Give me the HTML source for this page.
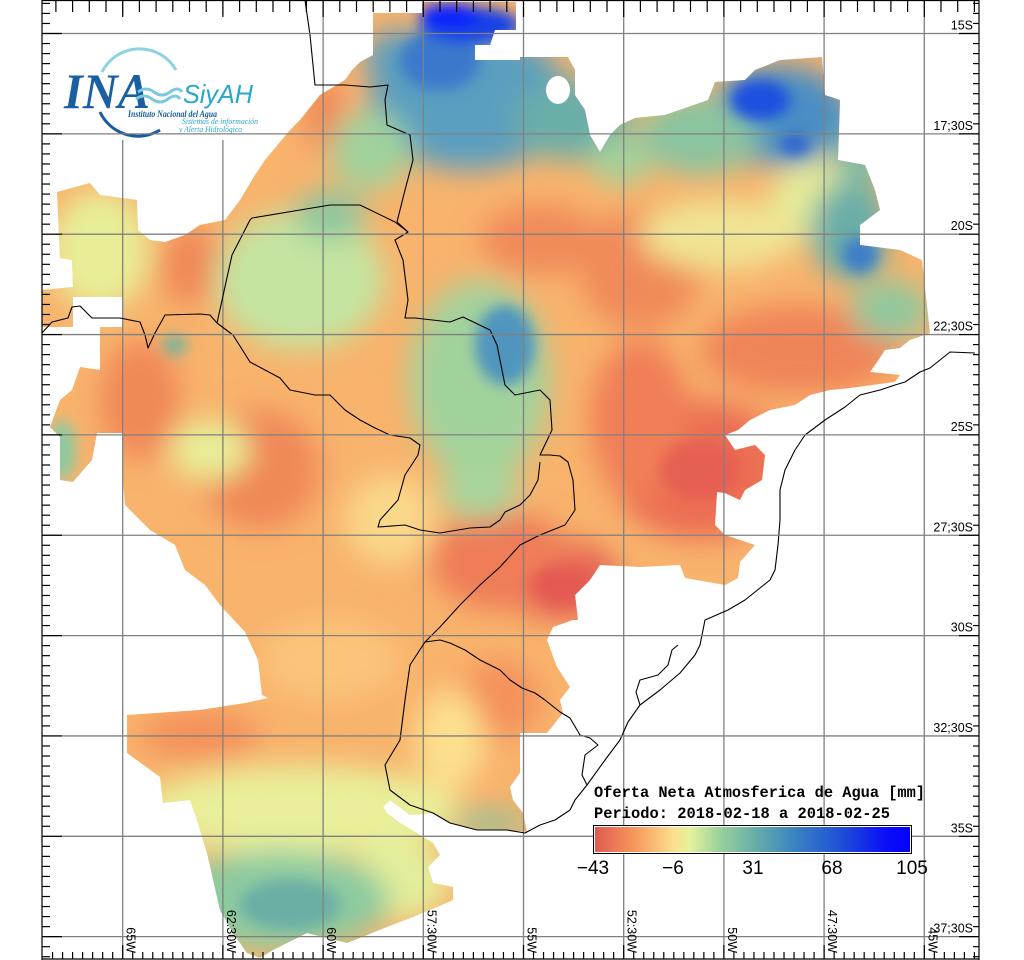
<!DOCTYPE html>
<html><head><meta charset="utf-8"><style>
html,body{margin:0;padding:0;background:#fff;}
svg{display:block;}
.lab{font-family:"Liberation Sans",sans-serif;font-size:12.5px;fill:#000;}
.mono{font-family:"Liberation Mono",monospace;font-size:15.4px;fill:#000;font-weight:bold;}
</style></head><body>
<svg id="s" width="1024" height="960" viewBox="0 0 1024 960" xmlns="http://www.w3.org/2000/svg">
<defs>
<clipPath id="reg"><polygon points="300,120 320,95 345,80 352,70 360,62 373,55 373,13 422,13 422,2 516,2 516,30 495,30 490,45 475,45 475,60 520,60 520,57 568,57 575,70 575,95 585,110 590,135 600,152 610,135 620,125 635,118 665,115 708,100 715,82 745,80 755,70 780,60 822,57 825,95 840,100 838,160 865,165 875,190 880,210 860,225 860,245 900,250 922,260 930,333 910,340 900,348 885,350 875,365 870,372 900,375 895,382 850,388 830,390 810,395 795,405 770,410 750,420 738,430 725,435 735,450 755,445 765,455 762,480 745,490 740,500 725,493 717,492 715,525 725,535 755,545 740,562 738,578 725,585 685,578 680,565 640,567 600,565 590,580 575,595 578,620 573,620 553,627 547,640 557,667 570,687 560,700 563,713 547,733 520,733 520,773 510,787 513,800 523,813 527,832 507,830 477,830 450,823 433,813 410,815 390,800 383,807 387,813 400,823 420,835 433,843 440,855 428,867 433,883 453,887 453,900 437,907 413,917 387,927 347,943 307,933 273,950 260,958 247,953 233,933 220,910 207,853 197,820 190,800 163,803 160,777 127,753 127,715 200,710 245,703 268,698 262,695 258,660 245,632 220,605 205,585 185,570 175,545 150,530 125,505 123,480 123,433 97,433 92,460 73,482 60,480 60,437 50,427 60,400 72,390 80,367 100,370 100,327 123,327 123,297 73,297 73,327 42,327 42,290 73,287 72,260 60,258 57,192 90,183 100,195 137,200 138,230 150,240 165,242 185,235 200,225 225,220 240,200 255,175 265,160 290,130"/></clipPath>
<filter id="bl" x="-20%" y="-20%" width="140%" height="140%"><feGaussianBlur stdDeviation="14"/></filter>
<filter id="bl2" x="-20%" y="-20%" width="140%" height="140%"><feGaussianBlur stdDeviation="7"/></filter>
<linearGradient id="cb" x1="0" x2="1" y1="0" y2="0">
<stop offset="0" stop-color="#e05a50"/><stop offset="0.13" stop-color="#f79a5c"/><stop offset="0.25" stop-color="#fbe08e"/><stop offset="0.3" stop-color="#e4f29c"/><stop offset="0.4" stop-color="#98d09c"/><stop offset="0.5" stop-color="#6bb0a6"/><stop offset="0.63" stop-color="#3a85c0"/><stop offset="0.78" stop-color="#1f4fd6"/><stop offset="0.92" stop-color="#0a10f8"/><stop offset="1" stop-color="#0000ff"/></linearGradient>
</defs>
<g clip-path="url(#reg)">
<rect x="0" y="0" width="1024" height="960" fill="#f8b36c"/>
<g filter="url(#bl)">
<ellipse cx="700" cy="470" rx="90" ry="70" fill="#ec6e52"/>
<ellipse cx="800" cy="350" rx="100" ry="45" fill="#f08458"/>
<ellipse cx="560" cy="580" rx="60" ry="40" fill="#e66454"/>
<ellipse cx="500" cy="560" rx="70" ry="50" fill="#ee7d58"/>
<ellipse cx="640" cy="270" rx="60" ry="60" fill="#f08a5a"/>
<ellipse cx="540" cy="240" rx="60" ry="35" fill="#f08a5a"/>
<ellipse cx="640" cy="420" rx="50" ry="80" fill="#f07e56"/>
<ellipse cx="260" cy="470" rx="60" ry="60" fill="#f08858"/>
<ellipse cx="140" cy="400" rx="40" ry="60" fill="#f08858"/>
<ellipse cx="190" cy="265" rx="30" ry="40" fill="#f08858"/>
<ellipse cx="325" cy="115" rx="20" ry="40" fill="#f08858"/>
<ellipse cx="480" cy="470" rx="30" ry="30" fill="#ee7d58"/>
<ellipse cx="500" cy="700" rx="40" ry="40" fill="#f4915c"/>
<ellipse cx="200" cy="735" rx="60" ry="25" fill="#f4915c"/>
<ellipse cx="330" cy="660" rx="70" ry="40" fill="#fbc47a"/>
<ellipse cx="720" cy="235" rx="80" ry="35" fill="#f0e494"/>
<ellipse cx="390" cy="520" rx="45" ry="45" fill="#fad88a"/>
<ellipse cx="450" cy="740" rx="35" ry="50" fill="#fce08e"/>
<ellipse cx="300" cy="810" rx="160" ry="45" fill="#e9ef9a"/>
<ellipse cx="400" cy="880" rx="50" ry="40" fill="#e4ee9a"/>
<ellipse cx="100" cy="250" rx="50" ry="60" fill="#e8ee98"/>
<ellipse cx="210" cy="450" rx="40" ry="30" fill="#e8ee98"/>
<ellipse cx="820" cy="200" rx="50" ry="40" fill="#e6ec98"/>
<ellipse cx="300" cy="280" rx="85" ry="70" fill="#c4e4a0"/>
<ellipse cx="330" cy="215" rx="35" ry="25" fill="#8ec6a0"/>
<ellipse cx="480" cy="380" rx="70" ry="100" fill="#a2d29c"/>
<ellipse cx="480" cy="490" rx="40" ry="30" fill="#a8d69c"/>
<ellipse cx="280" cy="900" rx="110" ry="50" fill="#8ccaa0"/>
<ellipse cx="490" cy="822" rx="40" ry="10" fill="#80c4a0"/>
<ellipse cx="890" cy="310" rx="40" ry="30" fill="#90c89e"/>
<ellipse cx="850" cy="230" rx="40" ry="50" fill="#6aaea8"/>
<ellipse cx="860" cy="150" rx="25" ry="40" fill="#7cbaa4"/>
<ellipse cx="470" cy="100" rx="100" ry="70" fill="#5a9ec0"/>
<ellipse cx="570" cy="120" rx="60" ry="40" fill="#6aaea8"/>
<ellipse cx="780" cy="115" rx="70" ry="50" fill="#4a8ec4"/>
<ellipse cx="700" cy="135" rx="60" ry="40" fill="#8ac4a0"/>
<ellipse cx="620" cy="160" rx="30" ry="25" fill="#a0d29c"/>
<ellipse cx="370" cy="150" rx="40" ry="40" fill="#a0d29c"/>
<ellipse cx="400" cy="60" rx="35" ry="30" fill="#5a9ec0"/>
</g>
<g filter="url(#bl2)">
<ellipse cx="505" cy="345" rx="30" ry="40" fill="#4f95be"/>
<ellipse cx="175" cy="345" rx="12" ry="10" fill="#6fb4a0"/>
<ellipse cx="62" cy="450" rx="14" ry="30" fill="#8ccaa0"/>
<ellipse cx="290" cy="905" rx="50" ry="25" fill="#6aaea4"/>
<ellipse cx="860" cy="255" rx="18" ry="18" fill="#3d7ec8"/>
<ellipse cx="440" cy="60" rx="40" ry="30" fill="#3a78cc"/>
<ellipse cx="470" cy="25" rx="50" ry="18" fill="#1540e6"/>
<ellipse cx="450" cy="15" rx="30" ry="12" fill="#0a20ff"/>
<ellipse cx="760" cy="100" rx="30" ry="20" fill="#1c50e0"/>
<ellipse cx="795" cy="145" rx="15" ry="10" fill="#2a60d0"/>
<ellipse cx="700" cy="470" rx="40" ry="30" fill="#e65e52"/>
<ellipse cx="560" cy="585" rx="30" ry="20" fill="#e45a52"/>
</g>
<ellipse cx="558" cy="90" rx="12" ry="14" fill="#fff"/>
</g>
<g id="grid" stroke="#808080" stroke-width="1.3" fill="none"></g>
<g stroke="#000" stroke-width="1.1" fill="none" stroke-linejoin="round">
<polyline points="305,0 310,35 315,85 345,85 370,87 388,85 385,100 387,125 410,135 413,160 405,190 397,222 408,232 395,240 403,260 408,300 405,318 415,318 450,322 463,317 490,330 497,345 505,385 515,395 540,390 550,400 552,430 540,455 550,455 560,456 568,462 573,480 575,510 565,525 540,535 520,545 500,567 480,585 460,605 440,627 425,642 410,665 405,700 400,740 385,765 390,790 410,805 433,813 450,823 477,830 507,830 525,833 540,825 555,820 570,810 575,800 587,785 605,760 620,740 628,722 640,705 660,690 680,673 695,655 700,645 705,620 728,610 745,600 770,580 775,570 778,545 780,520 780,490 785,470 795,450 805,435 825,420 845,407 860,395 880,390 895,385 905,382 920,372 930,368 940,360 950,352 975,353"/>
<polyline points="42,333 52,322 68,318 72,307 80,306 92,318 120,318 140,322 145,335 148,348 155,333 165,315 200,314 210,315 217,323 233,335 250,362 280,378 290,390 315,395 330,395 345,410 360,420 375,428 390,435 410,438 420,445 418,455 405,475 398,500 380,520 378,527 405,525 420,530 440,533 470,528 490,527 500,520 505,512 520,505 530,495 538,480 540,462"/>
<polyline points="217,323 232,255 250,220 252,218 330,205 360,205 395,222 408,232"/>
<polyline points="425,642 440,640 450,643 465,650 480,660 500,670 510,680 522,688 535,693 545,700 560,712 570,718 580,735 590,738 598,745 585,755 582,775 587,785"/>
<polyline points="640,705 636,692 640,680 658,675 668,665 672,650 678,645"/>
</g>
<rect x="43" y="15" width="223" height="125" fill="#fff"/>
<path d="M102,72 A42,42 0 0 1 176,70" stroke="#8fd3e3" stroke-width="3" fill="none"/>
<path d="M100,112 A42,42 0 0 0 160,130" stroke="#1a5a9e" stroke-width="3" fill="none"/>
<text x="64" y="108" font-family="Liberation Serif,serif" font-style="italic" font-weight="bold" font-size="50" fill="#1b5fa3" textLength="86" lengthAdjust="spacingAndGlyphs">INA</text>
<path d="M138,92 q8,-6 16,0 t16,0 t12,0 M136,99 q8,-6 16,0 t16,0 t12,0" stroke="#7cc8dc" stroke-width="3" fill="none"/>
<text x="183" y="103" font-family="Liberation Sans,sans-serif" font-style="italic" font-size="26" fill="#2aa6cc" textLength="70" lengthAdjust="spacingAndGlyphs">SiyAH</text>
<text x="128" y="117" font-family="Liberation Serif,serif" font-style="italic" font-weight="bold" font-size="9" fill="#1a5a9e" textLength="89" lengthAdjust="spacingAndGlyphs">Instituto Nacional del Agua</text>
<text x="182" y="124" font-family="Liberation Serif,serif" font-style="italic" font-size="8.5" fill="#2aa6cc" textLength="76" lengthAdjust="spacingAndGlyphs">Sistemas de información</text>
<text x="179" y="132" font-family="Liberation Serif,serif" font-style="italic" font-size="8.5" fill="#2aa6cc" textLength="63" lengthAdjust="spacingAndGlyphs">y Alerta Hidrológico</text>
<g id="hl" stroke="#808080" stroke-width="1.3"></g>
<g id="ticks" stroke="#000" stroke-width="1.2"></g>
<g id="labs"></g>
<text class="mono" x="594" y="797" textLength="331" lengthAdjust="spacingAndGlyphs">Oferta Neta Atmosferica de Agua [mm]</text>
<text class="mono" x="594" y="818" textLength="296" lengthAdjust="spacingAndGlyphs">Periodo: 2018-02-18 a 2018-02-25</text>
<rect x="593.5" y="825.5" width="318" height="28" fill="#fff" stroke="#000" stroke-width="1"/>
<rect x="595" y="827" width="315" height="25" fill="url(#cb)"/>
<g font-family="Liberation Sans,sans-serif" font-size="19" fill="#000" text-anchor="middle">
<text x="593" y="874">−43</text><text x="673" y="874">−6</text><text x="753" y="874">31</text><text x="832" y="874">68</text><text x="912" y="874">105</text>
</g>
</svg>
<script>
var NS="http://www.w3.org/2000/svg";
function el(p,t,a,txt){var e=document.createElementNS(NS,t);for(var k in a)e.setAttribute(k,a[k]);if(txt)e.textContent=txt;document.getElementById(p).appendChild(e);}
var gx=[],gy=[];
for(var i=0;i<9;i++)gx.push(122.7+100.2*i);
for(var j=0;j<10;j++)gy.push(33.5+100.35*j);
gx.forEach(function(x){el('grid','line',{x1:x,y1:0,x2:x,y2:959});});
gy.forEach(function(y){el('hl','line',{x1:42,y1:y,x2:979,y2:y});});
el('ticks','line',{x1:42,y1:0,x2:42,y2:960});
el('ticks','line',{x1:979,y1:0,x2:979,y2:960});
el('ticks','line',{x1:42,y1:0.5,x2:979,y2:0.5});
el('ticks','line',{x1:42,y1:959,x2:979,y2:959});
for(var y=3.4;y<960;y+=10.035){var maj=false;gy.forEach(function(g){if(Math.abs(g-y)<2)maj=true;});
el('ticks','line',{x1:42,y1:y,x2:maj?62:50,y2:y});
el('ticks','line',{x1:979,y1:y,x2:maj?959:973,y2:y});}
for(var x=122.7-100.2;x<980;x+=16.7){if(x<42)continue;var maj=false;gx.forEach(function(g){if(Math.abs(g-x)<2)maj=true;});
el('ticks','line',{x1:x,y1:0,x2:x,y2:maj?17:12});}
for(var x=122.7-80.16;x<980;x+=10.02){if(x<43)continue;var maj=false;gx.forEach(function(g){if(Math.abs(g-x)<2)maj=true;});
el('ticks','line',{x1:x,y1:959,x2:x,y2:maj?945:952});}
var ly=["15S","17;30S","20S","22;30S","25S","27;30S","30S","32;30S","35S","37;30S"];
gy.forEach(function(y,j){el('labs','text',{x:973,y:y-4,'class':'lab','text-anchor':'end'},ly[j]);});
var lx=["65W","62:30W","60W","57:30W","55W","52:30W","50W","47:30W","45W"];
gx.forEach(function(x,i){el('labs','text',{x:0,y:0,'class':'lab','text-anchor':'end',transform:'translate('+(x+4)+',953) rotate(90)'},lx[i]);});
</script>
</body></html>
